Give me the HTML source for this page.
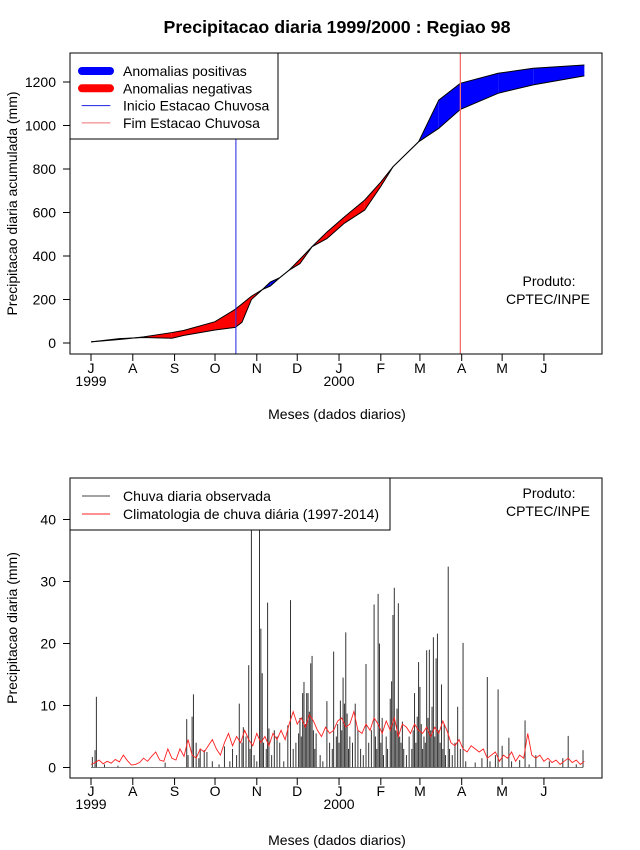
<!DOCTYPE html>
<html><head><meta charset="utf-8"><style>
body{margin:0;background:#fff;}
svg{display:block;font-family:"Liberation Sans",sans-serif;}
</style></head><body>
<svg id="chart" width="640" height="850" viewBox="0 0 640 850" xmlns="http://www.w3.org/2000/svg">
<rect x="0" y="0" width="640" height="850" fill="#fff"/>
<text x="337" y="33" text-anchor="middle" font-size="17.8" font-weight="bold">Precipitacao diaria 1999/2000 : Regiao 98</text>
<g id="top"></g><g id="bot"></g>
</svg>
<script>
// ---- data ----
const monthLabels = ["J","A","S","O","N","D","J","F","M","A","M","J"];
const monthStartDays = [0,31,62,92,123,153,184,215,244,275,305,336];
const yearLabels = ["1999","2000"];
const yearDays = [0,184];
const topTicks = [0,200,400,600,800,1000,1200];
const botTicks = [0,10,20,30,40];
const cumDays  = [0,21,39,60,69,92,107,112,119,127,133,140,147,155,164,175,188,203,215,224,243,258,274,302,328,366];
const obsCum   = [5,20,25,22,35,60,72,95,200,245,280,300,335,365,443,480,551,611,720,810,925,1117,1194,1240,1263,1278];
const climCum  = [5,16,28,48,58,98,155,180,215,245,262,300,335,385,443,510,580,657,740,810,925,987,1074,1148,1187,1228];
const seasonStartDay = 107.5;
const seasonEndDay = 274;
const rainDay = [1,3,4,71,75,76,81,84,99,110,113,117,119,125,126,127,131,132,136,148,146,154,158,160,161,163,164,167,175,180,185,187,189,188,190,196,204,210,213,214,216,222,223,224,225,227,228,231,240,243,242,244,249,251,253,254,256,257,260,265,272,276,294,302,310,322,354,365,
10,20,55,72,78,80,86,90,95,103,105,108,112,115,118,121,123,128,130,134,138,140,143,150,152,155,156,157,159,162,165,166,170,172,177,179,182,183,184,186,191,192,194,198,200,202,206,208,211,212,215,217,219,220,226,229,230,232,234,236,238,239,241,245,246,247,248,250,252,255,258,259,261,262,263,266,268,270,274,278,285,290,296,300,305,312,318,325,330,340,350,360];
const rainMm = [1.7,2.8,11.4,7.8,8.2,11.8,3,2.8,3.4,10.3,6.5,16.5,55,55,22.4,15.2,26.6,6.3,6,27,6.8,5.5,13.8,12,12,16.8,18,5.5,10.7,18.7,10.8,14.5,21.8,10.3,8.7,10.3,16.7,26.3,28,20,8,11.1,13.9,24.6,29,9.5,26.5,7.4,12,17,8.2,13,18.9,19,9.8,21,17.6,21.6,13.4,32.4,9.8,20.1,14.6,12.6,4.8,7.6,5.1,2.8,
0.5,0.3,0.8,2,4,1.5,2.5,1,0.5,1,3,2,4,5,3,2,1,4,3,2,5,4,1,3,4,8,5,12,7,9,6,3,2,1,4,3,5,7,4,6,3,5,4,6,3,2,4,6,5,3,4,2,5,3,6,5,4,3,2,5,3,6,4,7,3,5,4,8,6,5,6,4,3,7,2,3,2,4,3,1,0.8,1.5,1,2,3.5,1,1.2,0.5,2,1,1.5,0.5];
const climStepDays = 3;
const climDaily = [
0.5,0.8,1.2,0.6,1.0,0.7,1.3,0.9,2.0,1.1,0.4,0.5,
0.8,1.5,1.0,1.8,2.5,1.2,1.0,3.0,1.5,1.2,3.0,1.8,
4.5,2.0,1.5,3.0,2.5,3.5,4.5,3.0,2.0,4.0,5.5,3.5,
5.0,4.0,6.0,4.5,3.5,5.5,4.0,5.0,3.5,5.5,4.5,6.0,
4.5,7.0,9.0,7.0,8.0,6.5,8.5,7.5,6.0,5.0,6.5,5.5,
6.0,7.5,8.0,6.5,7.0,9.0,6.0,5.5,7.0,6.0,8.0,7.0,
5.5,7.5,6.0,8.0,5.0,7.0,6.5,5.5,7.0,6.0,5.5,6.5,
5.0,6.5,5.5,7.5,6.0,4.0,3.5,4.5,3.0,2.5,3.5,3.0,
2.5,3.0,1.5,2.0,2.5,1.0,2.0,1.5,2.5,1.0,2.0,1.5,
5.5,2.0,1.5,2.0,1.0,1.5,0.8,1.2,0.5,1.0,1.5,0.8,
1.2,0.5,1.0];

const NS="http://www.w3.org/2000/svg";
const FS=14;
function mk(parent,tag,attrs,text){const e=document.createElementNS(NS,tag);for(const k in attrs)e.setAttribute(k,attrs[k]);if(text!==undefined)e.textContent=text;parent.appendChild(e);return e;}
const X0=70,X1=602;
function xDay(d){return 91+d*1.348;}
const yTop=v=>343-v*0.2175;
const yBot=v=>767.5-v*6.2;

function axes(g,top,bottom,yfun,ticks,ytitle,tickLabelY,yearY,titleY,pre){
  const box=mk(g,'rect',{x:X0,y:top,width:X1-X0,height:bottom-top,fill:'none',stroke:'#000'});
  
  
  ticks.forEach(t=>{const y=yfun(t);
    const l=mk(g,'line',{x1:X0-7,x2:X0,y1:y,y2:y,stroke:'#000'});
    
    
    const tx=mk(g,'text',{x:56,y:y+5,'text-anchor':'end','font-size':FS},String(t));
    
    });
  monthLabels.forEach((m,i)=>{const x=xDay(monthStartDays[i]);
    const l=mk(g,'line',{x1:x,x2:x,y1:bottom,y2:bottom+7,stroke:'#000'});
    
    
    const tx=mk(g,'text',{x:x,y:tickLabelY,'text-anchor':'middle','font-size':FS},m);
    
    });
  yearLabels.forEach((yl,i)=>{const tx=mk(g,'text',{x:xDay(yearDays[i]),y:yearY,'text-anchor':'middle','font-size':FS},yl);
    
    });
  const xt=mk(g,'text',{x:337,y:titleY,'text-anchor':'middle','font-size':FS},'Meses (dados diarios)');
  
  
  const cy=(top+bottom)/2;
  const yt=mk(g,'text',{x:17,y:cy,'text-anchor':'middle','font-size':FS,transform:`rotate(-90 17 ${cy})`},ytitle);
  
  
}

// ---- top chart ----
const gt=document.getElementById('top');
for(let i=0;i<cumDays.length-1;i++){
  const xa=xDay(cumDays[i]),xb=xDay(cumDays[i+1]);
  const diff=(obsCum[i]-climCum[i])+(obsCum[i+1]-climCum[i+1]);
  const p=mk(gt,'polygon',{points:`${xa},${yTop(obsCum[i])} ${xb},${yTop(obsCum[i+1])} ${xb},${yTop(climCum[i+1])} ${xa},${yTop(climCum[i])}`,fill:diff>=0?'#0000ff':'#ff0000',stroke:'none'});
  
  
}
const lo=mk(gt,'polyline',{points:cumDays.map((d,i)=>xDay(d)+','+yTop(obsCum[i])).join(' '),fill:'none',stroke:'#000','stroke-width':1});


const lc=mk(gt,'polyline',{points:cumDays.map((d,i)=>xDay(d)+','+yTop(climCum[i])).join(' '),fill:'none',stroke:'#000','stroke-width':1});


const vs=mk(gt,'line',{x1:xDay(seasonStartDay),x2:xDay(seasonStartDay),y1:53,y2:354,stroke:'#2020e0'});


const ve=mk(gt,'line',{x1:xDay(seasonEndDay),x2:xDay(seasonEndDay),y1:53,y2:354,stroke:'#f07070','stroke-width':1.3});


axes(gt,53,354,yTop,topTicks,'Precipitacao diaria acumulada (mm)',373,386,419,'top');
const lg=mk(gt,'g',{});


mk(lg,'rect',{x:70,y:53,width:208,height:86,fill:'#fff',stroke:'#000'});
[['#0000ff',8,'Anomalias positivas'],['#ff0000',8,'Anomalias negativas'],['#2020e0',1,'Inicio Estacao Chuvosa'],['#f07070',1,'Fim Estacao Chuvosa']].forEach((e,i)=>{
  const y=71+i*17.3;
  const l=mk(lg,'line',{x1:82,x2:110,y1:y,y2:y,stroke:e[0],'stroke-width':e[1],'stroke-linecap':'round'});
  
  
  const t=mk(lg,'text',{x:123,y:y+5,'font-size':FS},e[2]);
  
  
});
const p1=mk(gt,'text',{x:549,y:286,'text-anchor':'middle','font-size':FS},'Produto:');


const p2=mk(gt,'text',{x:548,y:304,'text-anchor':'middle','font-size':FS},'CPTEC/INPE');



// ---- bottom chart ----
const gb=document.getElementById('bot');
mk(gb,'clipPath',{id:'clipb'}).appendChild(document.createElementNS(NS,'rect'));
const cr=gb.querySelector('#clipb rect');cr.setAttribute('x',X0);cr.setAttribute('y',478);cr.setAttribute('width',X1-X0);cr.setAttribute('height',300);
const bars=mk(gb,'g',{'clip-path':'url(#clipb)'});
rainDay.forEach((d,i)=>{const x=xDay(d);
  const b=mk(bars,'line',{x1:x,x2:x,y1:yBot(0),y2:yBot(rainMm[i]),stroke:'#333','stroke-width':1});
  
  });
mk(bars,'line',{x1:xDay(0),x2:xDay(365),y1:yBot(0),y2:yBot(0),stroke:'#555','stroke-width':0.8});
const cl=mk(bars,'polyline',{points:climDaily.map((v,i)=>xDay(i*climStepDays)+','+yBot(v)).join(' '),fill:'none',stroke:'#ff2020','stroke-width':0.9});


axes(gb,478,778,yBot,botTicks,'Precipitacao diaria (mm)',796,809,845,'bottom');
const lb=mk(gb,'g',{});


mk(lb,'rect',{x:70,y:478,width:320,height:52,fill:'#fff',stroke:'#000'});
[['#444','Chuva diaria observada'],['#ff2020','Climatologia de chuva diária (1997-2014)']].forEach((e,i)=>{
  const y=496+i*18;
  const l=mk(lb,'line',{x1:82,x2:110,y1:y,y2:y,stroke:e[0]});
  
  
  const t=mk(lb,'text',{x:123,y:y+5,'font-size':FS},e[1]);
  
  
});
const q1=mk(gb,'text',{x:549,y:498,'text-anchor':'middle','font-size':FS},'Produto:');


const q2=mk(gb,'text',{x:548,y:516,'text-anchor':'middle','font-size':FS},'CPTEC/INPE');


</script>
</body></html>
